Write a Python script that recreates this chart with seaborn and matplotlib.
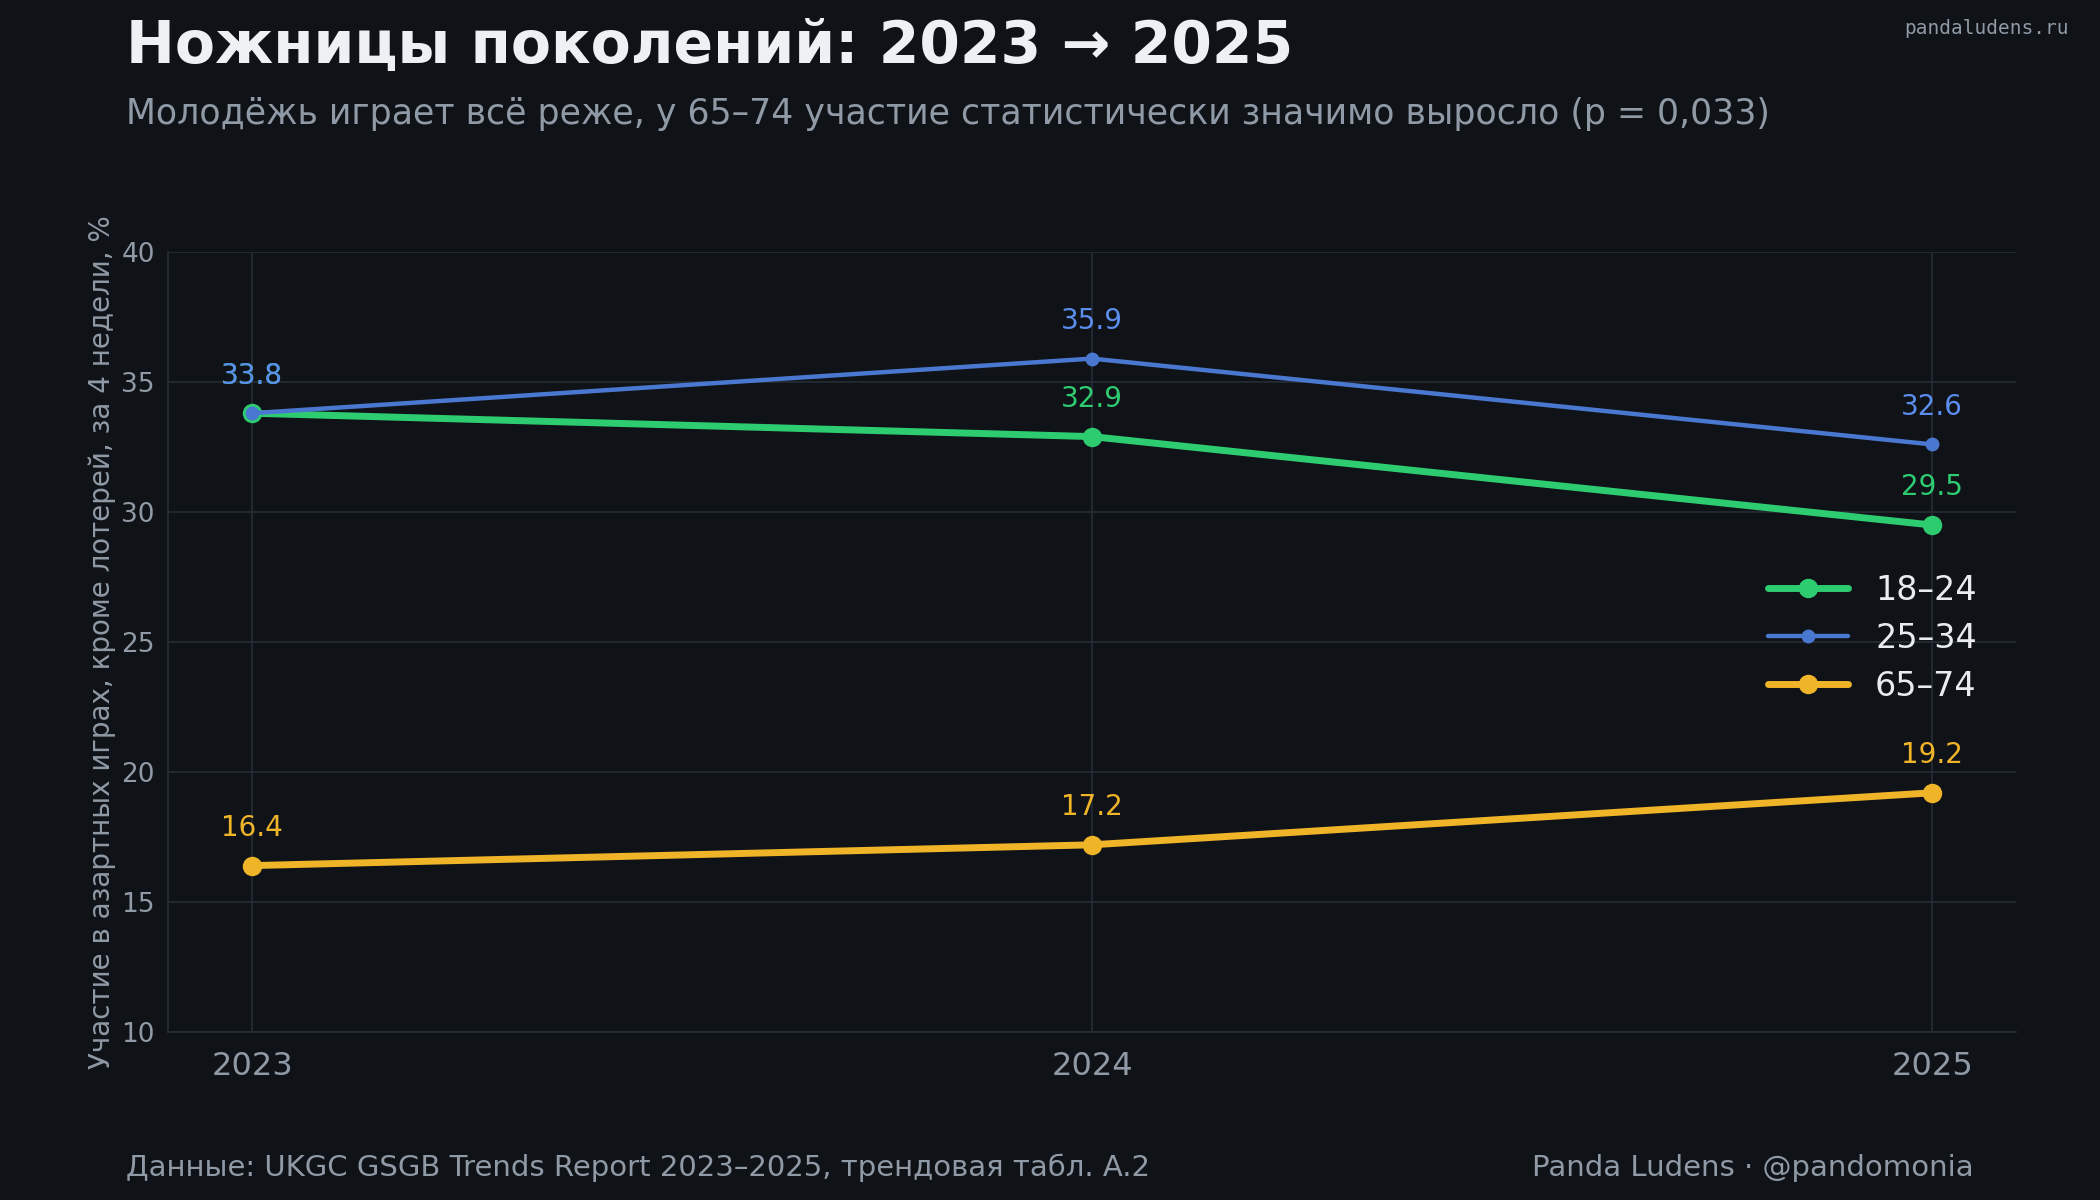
import matplotlib
matplotlib.use("Agg")
import matplotlib.pyplot as plt
import seaborn as sns
import pandas as pd

# Data
years = [2023, 2024, 2025]
age_groups = ["18–24", "25–34", "65–74"]
share_18_24 = [33.8, 32.9, 29.5]
share_25_34 = [33.8, 35.9, 32.6]
share_65_74 = [16.4, 17.2, 19.2]

bg = "#0f1317"
grid_col = "#262d35"
text_col = "#8f9aa6"
colors = {"18–24": "#2ecc71", "25–34": "#4a78d0", "65–74": "#f0b429"}
label_colors = {"18–24": "#2ecc71", "25–34": "#5b8def", "65–74": "#f0b429"}
widths = {"18–24": 5, "25–34": 3.2, "65–74": 5}
msizes = {"18–24": 14, "25–34": 10, "65–74": 14}

df = pd.DataFrame({
    "year": years * 3,
    "group": [g for g in age_groups for _ in years],
    "share": share_18_24 + share_25_34 + share_65_74,
})

sns.set_theme(style="dark")
plt.rcParams["font.family"] = ["DejaVu Sans"]

fig = plt.figure(figsize=(21, 12), dpi=100, facecolor=bg)
ax = fig.add_axes([0.08, 0.14, 0.88, 0.65], facecolor=bg)

for g in age_groups:
    sub = df[df["group"] == g]
    sns.lineplot(data=sub, x="year", y="share", ax=ax, color=colors[g], lw=widths[g],
                 marker="o", markersize=msizes[g], markeredgewidth=0, label=g)
    for x, y in zip(sub["year"], sub["share"]):
        ax.annotate(f"{y:.1f}", (x, y), xytext=(0, 17), textcoords="offset points",
                    ha="center", va="bottom", color=label_colors[g], fontsize=20)

ax.set_xlim(2022.9, 2025.1)
ax.set_ylim(10, 40)
ax.set_xticks(years)
ax.set_xticklabels([str(y) for y in years])
ax.set_yticks(range(10, 41, 5))
ax.grid(True, color=grid_col, lw=1.2)
ax.tick_params(axis="x", colors=text_col, labelsize=23, length=6, color=grid_col, pad=8)
ax.tick_params(axis="y", colors=text_col, labelsize=19, length=6, color=grid_col)
for s in ax.spines.values():
    s.set_visible(False)
ax.spines["left"].set_visible(True)
ax.spines["bottom"].set_visible(True)
ax.spines["left"].set_color(grid_col)
ax.spines["bottom"].set_color(grid_col)
ax.set_xlabel("")
ax.set_ylabel("Участие в азартных играх, кроме лотерей, за 4 недели, %", color=text_col, fontsize=20)

leg = ax.legend(loc="center right", bbox_to_anchor=(0.995, 0.505), frameon=False,
                fontsize=24, handlelength=2.4, labelspacing=0.45)
for t in leg.get_texts():
    t.set_color("#e8ecf0")

fig.text(0.06, 0.961, "Ножницы поколений: 2023 → 2025", fontsize=42, fontweight="bold",
         color="#eef1f4", va="center")
fig.text(0.06, 0.905, "Молодёжь играет всё реже, у 65–74 участие статистически значимо выросло (p = 0,033)",
         fontsize=25, color=text_col, va="center")
fig.text(0.985, 0.976, "pandaludens.ru", fontsize=14, color=text_col, family="DejaVu Sans Mono",
         ha="right", va="center")
fig.text(0.06, 0.027, "Данные: UKGC GSGB Trends Report 2023–2025, трендовая табл. A.2",
         fontsize=21, color=text_col, va="center")
fig.text(0.94, 0.027, "Panda Ludens · @pandomonia", fontsize=21, color=text_col,
         ha="right", va="center")

fig.savefig("out.png", dpi=100, facecolor=bg)
